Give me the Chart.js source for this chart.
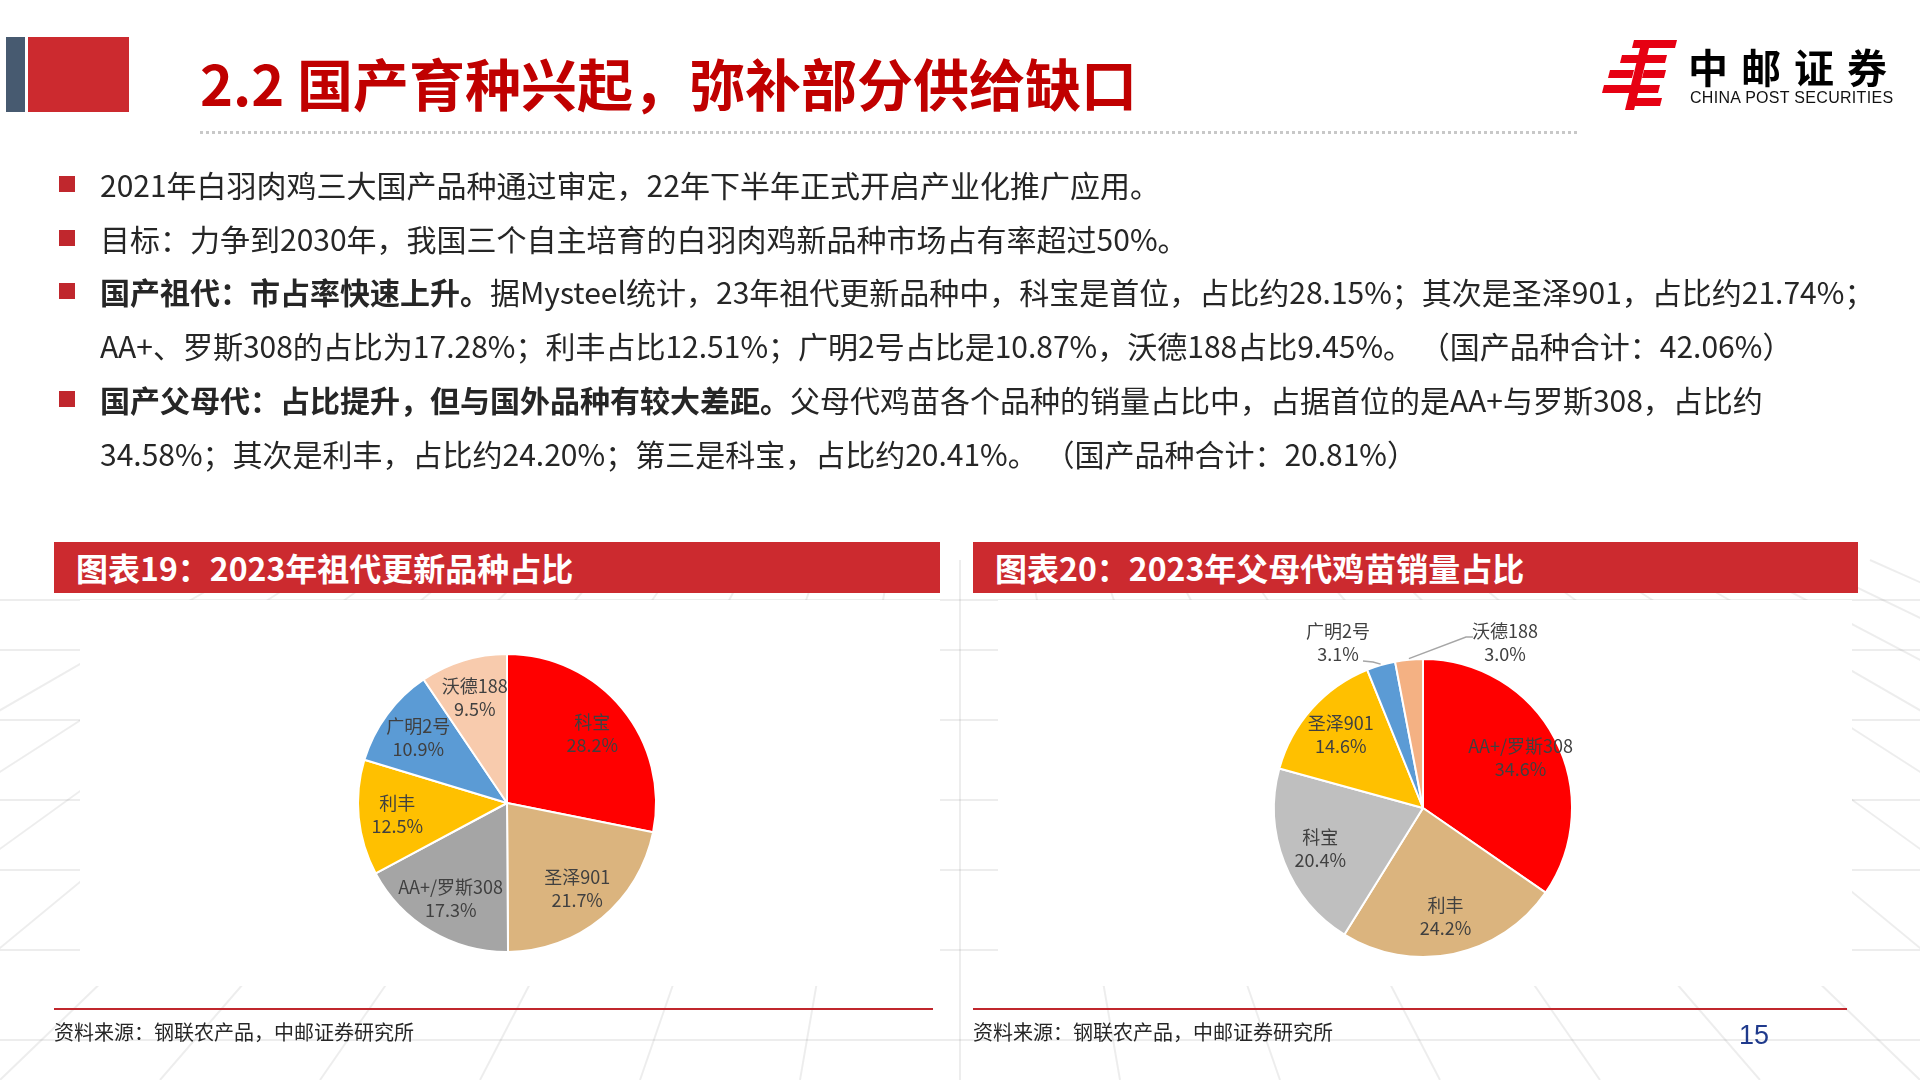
<!DOCTYPE html>
<html>
<head>
<meta charset="utf-8">
<script src="https://cdn.jsdelivr.net/npm/chart.js@4.4.1/dist/chart.umd.min.js"></script>
<style>
  html, body { margin: 0; padding: 0; }
  body { width: 1920px; height: 1080px; position: relative; overflow: hidden; background: #fff;
         font-family: "Noto Sans CJK SC", "Noto Sans", sans-serif; color: #262626; }
  .abs { position: absolute; }
  #bg { left: 0; top: 0; }
  .title { left: 200px; top: 44px; font-size: 56px; font-weight: 700; color: #C00000; line-height: 76px; white-space: nowrap; }
  .dots { left: 200px; top: 131px; width: 1377px; height: 0; border-top: 3px dotted #c8c8c8; }
  .para { left: 100px; font-size: 30px; line-height: 54px; white-space: nowrap; }
  .para b { font-weight: 700; }
  .bullet { left: 59px; width: 16px; height: 16px; background: #C0272D; }
  .hdr { top: 542px; height: 51px; background: #CC2A2F; color: #fff; font-weight: 700; font-size: 32px; line-height: 51px; box-sizing: border-box; padding-left: 22px; white-space: nowrap; }
  .panel { top: 600px; height: 386px; background: #fff; }
  .rule { top: 1008px; height: 2px; background: #C0272D; }
  .src { top: 1017px; font-size: 20px; line-height: 30px; color: #262626; }
</style>
</head>
<body>
<canvas id="bg" class="abs" width="1920" height="1080"></canvas>

<div class="abs" style="left:6px;top:37px;width:19px;height:75px;background:#475A70;"></div>
<div class="abs" style="left:28px;top:37px;width:101px;height:75px;background:#CC2A2F;"></div>
<div class="abs title">2.2 国产育种兴起，弥补部分供给缺口</div>
<div class="abs dots"></div>

<svg class="abs" style="left:1602px;top:40px;" width="76" height="70" viewBox="0 0 76 70">
  <g fill="#E60012">
    <polygon points="32,0 75,0 73,8 30,8"/>
    <polygon points="20,15 65,15 63,23 18,23"/>
    <polygon points="8,30 32,30 30,38 6,38"/>
    <polygon points="42,30 64,30 62,38 40,38"/>
    <polygon points="2,45 58,45 56,53 0,53"/>
    <polygon points="32,58 60,58 58,66 30,66"/>
    <polygon points="38,8 47,8 32,70 23,70"/>
  </g>
</svg>
<div class="abs" style="left:1688px;top:40px;font-size:40px;font-weight:700;letter-spacing:13px;color:#000;line-height:52px;white-space:nowrap;">中邮证券</div>
<div class="abs" style="left:1690px;top:88px;font-size:16px;font-family:'Liberation Sans',Arial,sans-serif;color:#111;line-height:20px;letter-spacing:0.3px;white-space:nowrap;">CHINA POST SECURITIES</div>

<div class="abs bullet" style="top:176px;"></div>
<div class="abs bullet" style="top:230px;"></div>
<div class="abs bullet" style="top:283px;"></div>
<div class="abs bullet" style="top:391px;"></div>

<div class="abs para" style="top:157px;">2021年白羽肉鸡三大国产品种通过审定，22年下半年正式开启产业化推广应用。</div>
<div class="abs para" style="top:211px;">目标：力争到2030年，我国三个自主培育的白羽肉鸡新品种市场占有率超过50%。</div>
<div class="abs para" style="top:264px;"><b>国产祖代：市占率快速上升。</b>据Mysteel统计，23年祖代更新品种中，科宝是首位，占比约28.15%；其次是圣泽901，占比约21.74%；<br>AA+、罗斯308的占比为17.28%；利丰占比12.51%；广明2号占比是10.87%，沃德188占比9.45%。 （国产品种合计：42.06%）</div>
<div class="abs para" style="top:372px;"><b>国产父母代：占比提升，但与国外品种有较大差距。</b>父母代鸡苗各个品种的销量占比中，占据首位的是AA+与罗斯308，占比约<br>34.58%；其次是利丰，占比约24.20%；第三是科宝，占比约20.41%。 （国产品种合计：20.81%）</div>

<div class="abs hdr" style="left:54px;width:886px;">图表19：2023年祖代更新品种占比</div>
<div class="abs hdr" style="left:973px;width:885px;">图表20：2023年父母代鸡苗销量占比</div>

<div class="abs panel" style="left:80px;width:860px;"></div>
<div class="abs panel" style="left:998px;width:854px;"></div>

<canvas id="pie1" class="abs" style="left:307px;top:603px;" width="400" height="400"></canvas>
<canvas id="pie2" class="abs" style="left:1223px;top:608px;" width="400" height="400"></canvas>

<div class="abs rule" style="left:54px;width:879px;"></div>
<div class="abs rule" style="left:973px;width:874px;"></div>
<div class="abs src" style="left:54px;">资料来源：钢联农产品，中邮证券研究所</div>
<div class="abs src" style="left:973px;">资料来源：钢联农产品，中邮证券研究所</div>
<div class="abs" style="left:1739px;top:1018px;font-size:27px;line-height:34px;color:#1F3A8C;font-family:'Liberation Sans',Arial,sans-serif;">15</div>

<script>
// 图表19 祖代更新品种占比 (%)
const gpLabels = ["科宝", "圣泽901", "AA+/罗斯308", "利丰", "广明2号", "沃德188"];
const gpValues = [28.15, 21.74, 17.28, 12.51, 10.87, 9.45];
const gpColors = ["#FF0000", "#DBB47E", "#A5A5A5", "#FFC000", "#5B9BD5", "#F8CBAD"];

// 图表20 父母代鸡苗销量占比 (%)
const psLabels = ["AA+/罗斯308", "利丰", "科宝", "圣泽901", "广明2号", "沃德188"];
const psValues = [34.58, 24.20, 20.41, 14.6, 3.1, 3.0];
const psColors = ["#FF0000", "#DBB47E", "#BFBFBF", "#FFC000", "#5B9BD5", "#F4B183"];

// faint perspective floor behind the page
(function () {
  const c = document.getElementById("bg").getContext("2d");
  c.strokeStyle = "rgba(0,0,0,0.07)";
  c.lineWidth = 2;
  const rows = [600, 650, 720, 800, 870, 950, 1040];
  rows.forEach(y => { c.beginPath(); c.moveTo(0, y); c.lineTo(1920, y); c.stroke(); });
  for (let i = -10; i <= 30; i++) {
    c.beginPath();
    c.moveTo(960 + i * 70, 560);
    c.lineTo(960 + i * 160, 1080);
    c.stroke();
  }
})();

const labelFont = "18px 'Liberation Sans Narrow', 'Noto Sans CJK SC', sans-serif";

function pctText(v) {
  return (Math.round(v * 10 + 1e-6) / 10).toFixed(1) + "%";
}

const sliceLabels = {
  id: "sliceLabels",
  afterDatasetsDraw(chart) {
    const ctx = chart.ctx;
    const meta = chart.getDatasetMeta(0);
    const vals = chart.data.datasets[0].data;
    const names = chart.data.labels;
    let smallCount = 0;
    ctx.save();
    ctx.font = labelFont;
    ctx.fillStyle = "#404040";
    ctx.textAlign = "center";
    ctx.textBaseline = "middle";
    meta.data.forEach((arc, i) => {
      const p = arc.getProps(["x", "y", "startAngle", "endAngle", "outerRadius"], true);
      const mid = (p.startAngle + p.endAngle) / 2;
      const r = p.outerRadius;
      const pct = pctText(vals[i]);
      if (vals[i] >= 5) {
        const lx = p.x + Math.cos(mid) * r * 0.74;
        const ly = p.y + Math.sin(mid) * r * 0.74;
        ctx.fillText(names[i], lx, ly - 11);
        ctx.fillText(pct, lx, ly + 12);
      } else {
        const side = smallCount === 0 ? -1 : 1;
        smallCount++;
        const ex = p.x + Math.cos(mid) * (r + 1);
        const ey = p.y + Math.sin(mid) * (r + 1);
        const lx = p.x + side * (side < 0 ? 85 : 82);
        const y1 = p.y - r - 28, y2 = p.y - r - 5;
        ctx.fillText(names[i], lx, y1);
        ctx.fillText(pct, lx, y2);
        ctx.strokeStyle = "#A6A6A6";
        ctx.lineWidth = 1.5;
        ctx.beginPath();
        if (side < 0) {
          ctx.moveTo(lx + 25, y2 + 7);
          ctx.lineTo(lx + 35, y2 + 8);
        } else {
          ctx.moveTo(lx - 32, y1 + 6);
          ctx.lineTo(lx - 39, y1 + 6);
        }
        ctx.lineTo(ex, ey);
        ctx.stroke();
      }
    });
    ctx.restore();
  }
};

function makePie(id, labels, values, colors) {
  new Chart(document.getElementById(id), {
    type: "pie",
    data: {
      labels: labels,
      datasets: [{ data: values, backgroundColor: colors, borderColor: "#ffffff", borderWidth: 2 }]
    },
    options: {
      responsive: false,
      animation: false,
      layout: { padding: 50 },
      plugins: { legend: { display: false }, tooltip: { enabled: false } }
    },
    plugins: [sliceLabels]
  });
}

makePie("pie1", gpLabels, gpValues, gpColors);
makePie("pie2", psLabels, psValues, psColors);
</script>
</body>
</html>
